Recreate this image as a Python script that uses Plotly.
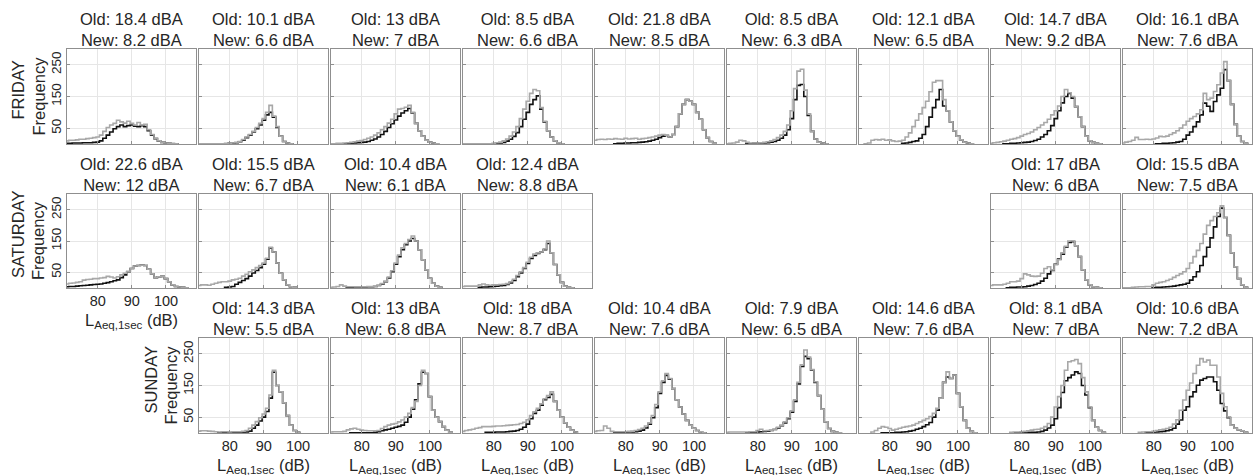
import plotly.graph_objects as go

W, H = 1254, 475

# ---------------------------------------------------------------------------
# Panel titles: spread of the old / new method per recording (dBA)
# ---------------------------------------------------------------------------
FRI_OLD_DBA = [18.4, 10.1, 13, 8.5, 21.8, 8.5, 12.1, 14.7, 16.1]
FRI_NEW_DBA = [8.2, 6.6, 7, 6.6, 8.5, 6.3, 6.5, 9.2, 7.6]
SAT_OLD_DBA = [22.6, 15.5, 10.4, 12.4, 17, 15.5]
SAT_NEW_DBA = [12, 6.7, 6.1, 8.8, 6, 7.5]
SUN_OLD_DBA = [14.3, 13, 18, 10.4, 7.9, 14.6, 8.1, 10.6]
SUN_NEW_DBA = [5.5, 6.8, 8.7, 7.6, 6.5, 7.6, 7, 7.2]

# grid columns used by each day
FRI_COLS = [0, 1, 2, 3, 4, 5, 6, 7, 8]
SAT_COLS = [0, 1, 2, 3, 7, 8]
SUN_COLS = [1, 2, 3, 4, 5, 6, 7, 8]

DAY_NAMES = ["FRIDAY", "SATURDAY", "SUNDAY"]
X_TICKS = [80, 90, 100]
Y_TICKS = [50, 150, 250]

# ---------------------------------------------------------------------------
# 1-dB histograms of L_Aeq,1sec: (centre of first bin, counts per bin)
# ---------------------------------------------------------------------------
FRI1_OLD = (71, [10, 12, 12, 13, 15, 15, 17, 18, 20, 22, 28, 40, 52, 60, 65, 75, 70, 66, 72, 65, 60, 68, 60, 62, 45, 30, 18, 10, 5, 3, 2, 2, 1])
FRI1_NEW = (71, [2, 2, 3, 3, 3, 4, 4, 4, 5, 6, 10, 18, 28, 38, 48, 55, 60, 55, 58, 60, 56, 55, 58, 55, 42, 28, 17, 9, 5, 3, 2, 1, 1])
FRI2_OLD = (71, [1, 1, 1, 1, 1, 1, 1, 1, 2, 2, 3, 5, 8, 14, 22, 30, 40, 52, 65, 80, 100, 122, 88, 55, 25, 8, 3, 1])
FRI2_NEW = (71, [0, 0, 0, 0, 0, 1, 1, 1, 1, 2, 2, 4, 7, 12, 20, 28, 38, 48, 60, 75, 92, 100, 85, 52, 25, 8, 3, 1])
FRI3_OLD = (71, [1, 1, 2, 2, 3, 4, 5, 7, 9, 11, 14, 18, 22, 28, 35, 45, 55, 66, 78, 95, 110, 112, 116, 122, 100, 65, 42, 25, 12, 6, 3, 1])
FRI3_NEW = (71, [0, 0, 0, 0, 1, 1, 2, 3, 4, 5, 6, 8, 12, 16, 22, 30, 40, 52, 64, 76, 88, 98, 105, 112, 98, 65, 42, 25, 12, 6, 3, 1])
FRI4_OLD = (71, [1, 1, 1, 1, 1, 1, 1, 1, 1, 2, 4, 6, 10, 16, 25, 38, 55, 80, 110, 135, 160, 172, 168, 115, 72, 42, 22, 10, 4, 1])
FRI4_NEW = (80, [1, 2, 3, 5, 9, 15, 24, 36, 55, 78, 100, 125, 140, 152, 110, 70, 42, 22, 10, 4, 1])
FRI5_OLD = (71, [12, 14, 15, 14, 16, 15, 17, 16, 15, 18, 16, 17, 18, 15, 17, 18, 20, 22, 25, 28, 30, 28, 22, 30, 55, 95, 125, 140, 135, 125, 100, 78, 45, 20, 8, 2])
FRI5_NEW = (77, [1, 2, 2, 3, 3, 4, 4, 5, 6, 7, 9, 12, 15, 20, 25, 27, 22, 30, 55, 95, 125, 140, 135, 125, 100, 78, 45, 20, 8, 2])
FRI6_OLD = (71, [1, 2, 3, 6, 12, 10, 5, 3, 3, 3, 4, 5, 7, 10, 14, 20, 28, 40, 60, 105, 175, 230, 236, 170, 95, 40, 16, 6, 3, 1])
FRI6_NEW = (77, [1, 1, 2, 2, 3, 3, 4, 6, 8, 12, 18, 28, 45, 80, 140, 185, 188, 150, 90, 40, 16, 6, 3, 1])
FRI7_OLD = (73, [1, 3, 12, 14, 13, 15, 12, 13, 10, 8, 9, 12, 22, 35, 55, 75, 95, 115, 135, 165, 195, 200, 200, 140, 105, 70, 42, 25, 13, 6, 3, 1])
FRI7_NEW = (84, [2, 3, 5, 8, 10, 18, 30, 55, 85, 115, 140, 172, 120, 105, 70, 42, 25, 13, 6, 3, 1])
FRI8_OLD = (71, [2, 4, 5, 7, 9, 12, 15, 17, 20, 25, 30, 33, 38, 45, 52, 60, 68, 78, 92, 105, 120, 150, 172, 162, 150, 118, 86, 55, 25, 10, 5, 2, 1])
FRI8_NEW = (75, [1, 1, 2, 2, 3, 4, 5, 6, 8, 11, 15, 22, 30, 42, 58, 80, 105, 130, 150, 160, 145, 118, 86, 55, 25, 10, 5, 2, 1])
FRI9_OLD = (71, [3, 6, 8, 12, 21, 14, 14, 15, 14, 16, 19, 24, 23, 25, 30, 35, 42, 50, 60, 72, 80, 87, 95, 108, 160, 140, 145, 166, 187, 224, 260, 200, 125, 62, 25, 8, 2])
FRI9_NEW = (81, [1, 1, 2, 2, 3, 4, 6, 8, 15, 28, 38, 55, 70, 92, 129, 119, 103, 134, 155, 176, 235, 200, 125, 62, 25, 8, 2])

SAT1_OLD = (71, [13, 15, 16, 18, 20, 25, 27, 28, 30, 30, 32, 33, 37, 35, 32, 36, 42, 47, 53, 62, 70, 72, 73, 72, 60, 45, 33, 36, 37, 30, 20, 10, 5, 3, 2, 1])
SAT1_NEW = (71, [4, 5, 5, 6, 7, 8, 9, 10, 11, 12, 13, 15, 17, 20, 23, 26, 33, 42, 52, 62, 70, 72, 73, 72, 60, 45, 33, 36, 37, 30, 20, 10, 5, 3, 2, 1])
SAT2_OLD = (71, [8, 10, 10, 9, 12, 15, 18, 20, 20, 22, 26, 28, 31, 38, 44, 52, 58, 65, 72, 80, 95, 130, 115, 80, 47, 26, 10, 4, 2])
SAT2_NEW = (79, [2, 3, 5, 12, 18, 24, 30, 38, 48, 56, 65, 76, 92, 128, 115, 80, 47, 26, 10, 4, 2])
SAT3_OLD = (71, [2, 3, 5, 10, 6, 4, 4, 4, 4, 4, 4, 5, 5, 6, 9, 14, 22, 35, 55, 80, 105, 128, 142, 155, 166, 150, 122, 90, 58, 31, 15, 6, 2])
SAT3_NEW = (76, [2, 2, 3, 3, 3, 3, 4, 4, 5, 8, 12, 20, 32, 52, 76, 100, 122, 138, 150, 158, 150, 122, 90, 58, 31, 15, 6, 2])
SAT4_OLD = (71, [5, 6, 6, 6, 6, 10, 13, 10, 9, 10, 10, 11, 12, 14, 20, 28, 40, 52, 65, 82, 98, 108, 112, 115, 125, 150, 112, 75, 42, 18, 6, 2, 1])
SAT4_NEW = (76, [2, 3, 3, 4, 5, 6, 7, 8, 11, 16, 24, 36, 48, 62, 78, 94, 104, 110, 115, 122, 142, 112, 75, 42, 18, 6, 2, 1])
SAT8_OLD = (71, [8, 10, 10, 10, 12, 15, 20, 20, 22, 30, 45, 42, 38, 37, 38, 47, 62, 68, 58, 74, 90, 112, 133, 150, 150, 135, 100, 58, 26, 10, 4, 2, 1])
SAT8_NEW = (76, [1, 2, 2, 3, 3, 4, 6, 8, 11, 15, 22, 31, 45, 56, 76, 92, 108, 130, 145, 148, 135, 100, 58, 26, 10, 4, 2, 1])
SAT9_OLD = (71, [1, 1, 1, 2, 3, 4, 4, 5, 5, 10, 15, 18, 20, 24, 28, 34, 40, 45, 52, 62, 80, 100, 120, 142, 172, 200, 215, 228, 240, 262, 225, 168, 112, 68, 30, 10, 2])
SAT9_NEW = (80, [1, 2, 2, 3, 4, 5, 6, 8, 10, 12, 15, 25, 36, 52, 72, 100, 130, 160, 195, 228, 255, 225, 168, 112, 68, 30, 10, 2])

SUN2_OLD = (71, [6, 7, 7, 6, 5, 4, 3, 4, 4, 3, 4, 4, 4, 5, 8, 15, 25, 36, 48, 60, 78, 120, 198, 150, 130, 95, 55, 25, 8, 2])
SUN2_NEW = (77, [1, 1, 1, 1, 1, 1, 1, 2, 3, 6, 15, 25, 38, 50, 68, 110, 192, 150, 130, 95, 55, 25, 8, 2])
SUN3_OLD = (71, [3, 4, 4, 4, 5, 10, 13, 15, 12, 9, 8, 7, 7, 7, 8, 14, 20, 25, 28, 30, 35, 41, 50, 62, 80, 100, 150, 198, 188, 115, 72, 50, 36, 20, 9, 2])
SUN3_NEW = (77, [1, 1, 1, 1, 1, 1, 1, 2, 4, 7, 10, 12, 15, 18, 21, 25, 34, 50, 75, 105, 155, 192, 188, 115, 72, 50, 36, 20, 9, 2])
SUN4_OLD = (71, [5, 8, 10, 12, 15, 17, 20, 20, 20, 21, 22, 22, 23, 24, 25, 26, 27, 30, 34, 42, 55, 67, 78, 92, 108, 118, 130, 100, 72, 50, 32, 18, 9, 3])
SUN4_NEW = (78, [2, 2, 2, 3, 3, 3, 4, 5, 6, 8, 12, 18, 28, 45, 62, 72, 88, 105, 112, 122, 100, 72, 50, 32, 18, 9, 3])
SUN5_OLD = (71, [5, 7, 8, 22, 15, 5, 4, 4, 4, 4, 5, 6, 8, 11, 15, 22, 32, 55, 90, 130, 165, 188, 172, 140, 105, 82, 60, 40, 25, 15, 8, 4, 1])
SUN5_NEW = (77, [1, 1, 2, 2, 3, 3, 4, 6, 9, 16, 28, 48, 80, 125, 160, 182, 170, 140, 105, 82, 60, 40, 25, 15, 8, 4, 1])
SUN6_OLD = (71, [2, 3, 3, 3, 3, 3, 3, 4, 4, 8, 12, 7, 8, 9, 12, 18, 25, 35, 48, 70, 105, 160, 215, 262, 240, 200, 162, 118, 75, 35, 14, 5, 2, 1])
SUN6_NEW = (77, [1, 2, 2, 3, 4, 5, 6, 8, 11, 16, 23, 32, 45, 66, 100, 155, 210, 242, 235, 198, 160, 118, 75, 35, 14, 5, 2, 1])
SUN7_OLD = (75, [3, 8, 15, 20, 18, 14, 9, 12, 15, 18, 20, 22, 25, 30, 35, 40, 45, 52, 62, 78, 110, 160, 193, 172, 183, 125, 83, 40, 15, 5, 1])
SUN7_NEW = (78, [1, 1, 1, 1, 2, 2, 3, 4, 6, 8, 12, 15, 20, 26, 33, 50, 72, 110, 160, 177, 172, 183, 125, 83, 40, 15, 5, 1])
SUN8_OLD = (77, [2, 3, 3, 4, 5, 7, 9, 11, 12, 15, 20, 30, 50, 82, 115, 150, 198, 225, 228, 232, 219, 175, 130, 82, 40, 18, 8, 2])
SUN8_NEW = (78, [1, 1, 1, 2, 2, 2, 2, 3, 5, 9, 16, 25, 45, 80, 128, 165, 175, 183, 193, 188, 150, 120, 80, 40, 18, 8, 2])
SUN9_OLD = (76, [2, 3, 4, 4, 5, 8, 10, 12, 14, 18, 28, 42, 72, 104, 135, 158, 188, 214, 235, 224, 230, 214, 214, 177, 125, 83, 51, 25, 15, 10, 7, 2])
SUN9_NEW = (78, [1, 2, 2, 3, 4, 5, 7, 10, 15, 28, 41, 72, 83, 115, 130, 151, 167, 172, 177, 177, 162, 135, 93, 70, 48, 25, 15, 10, 7, 2])

FRI_HISTS = [(FRI1_OLD, FRI1_NEW), (FRI2_OLD, FRI2_NEW), (FRI3_OLD, FRI3_NEW),
             (FRI4_OLD, FRI4_NEW), (FRI5_OLD, FRI5_NEW), (FRI6_OLD, FRI6_NEW),
             (FRI7_OLD, FRI7_NEW), (FRI8_OLD, FRI8_NEW), (FRI9_OLD, FRI9_NEW)]
SAT_HISTS = [(SAT1_OLD, SAT1_NEW), (SAT2_OLD, SAT2_NEW), (SAT3_OLD, SAT3_NEW),
             (SAT4_OLD, SAT4_NEW), (SAT8_OLD, SAT8_NEW), (SAT9_OLD, SAT9_NEW)]
SUN_HISTS = [(SUN2_OLD, SUN2_NEW), (SUN3_OLD, SUN3_NEW), (SUN4_OLD, SUN4_NEW),
             (SUN5_OLD, SUN5_NEW), (SUN6_OLD, SUN6_NEW), (SUN7_OLD, SUN7_NEW),
             (SUN8_OLD, SUN8_NEW), (SUN9_OLD, SUN9_NEW)]

DAYS = [
    (FRI_COLS, FRI_OLD_DBA, FRI_NEW_DBA, FRI_HISTS),
    (SAT_COLS, SAT_OLD_DBA, SAT_NEW_DBA, SAT_HISTS),
    (SUN_COLS, SUN_OLD_DBA, SUN_NEW_DBA, SUN_HISTS),
]

# ---------------------------------------------------------------------------
# Styling / geometry (pixels)
# ---------------------------------------------------------------------------
FONT = "Liberation Sans, Arial, Helvetica, sans-serif"
TXT = "#262626"
FRAME = "#8f8f8f"
GRID = "#e6e6e6"
OLD_COLOR = "#a8a8a8"
NEW_COLOR = "#111111"
LINE_W = 1.6

COL_LEFT0, COL_STEP, PANEL_W = 67, 132, 129
ROW_TOP = [49, 194, 338]
ROW_BOT = [144, 288, 433]
X_RANGE = [71.0, 108.8]
Y_RANGE = [0, 300]


def stairs(hist):
    """Outline of a histogram drawn as steps that start and end at zero."""
    first, counts = hist
    edges = [first - 0.5 + i for i in range(len(counts) + 1)]
    xs = [edges[0]] + edges[:-1] + [edges[-1]]
    ys = [0] + list(counts) + [0]
    return xs, ys


def px_x(v):
    return v / W


def px_y(v):
    return 1 - v / H


fig = go.Figure()
annotations = []
layout_axes = {}
n = 0

for r, (cols, olds, news, hists) in enumerate(DAYS):
    top, bot = ROW_TOP[r], ROW_BOT[r]
    first_col = cols[0]
    for k, c in enumerate(cols):
        n += 1
        left = COL_LEFT0 + c * COL_STEP
        right = left + PANEL_W
        xname = "x" if n == 1 else f"x{n}"
        yname = "y" if n == 1 else f"y{n}"
        xkey = "xaxis" if n == 1 else f"xaxis{n}"
        ykey = "yaxis" if n == 1 else f"yaxis{n}"

        show_x = (r == 2) or (r == 1 and c == 0)
        show_y = (c == first_col)

        layout_axes[xkey] = dict(
            domain=[px_x(left), px_x(right)], anchor=yname, range=X_RANGE,
            tickvals=X_TICKS, showticklabels=show_x, showgrid=True,
            gridcolor=GRID, gridwidth=1, showline=True, mirror=True,
            linecolor=FRAME, linewidth=1, ticks="inside", ticklen=3,
            tickcolor=FRAME, zeroline=False, fixedrange=True,
            tickfont=dict(family=FONT, size=14.5, color=TXT),
        )
        layout_axes[ykey] = dict(
            domain=[px_y(bot), px_y(top)], anchor=xname, range=Y_RANGE,
            tickvals=Y_TICKS, showticklabels=show_y, tickangle=-90,
            showgrid=True, gridcolor=GRID, gridwidth=1, showline=True,
            mirror=True, linecolor=FRAME, linewidth=1, ticks="inside",
            ticklen=3, tickcolor=FRAME, zeroline=False, fixedrange=True,
            tickfont=dict(family=FONT, size=13.5, color=TXT),
        )

        old_hist, new_hist = hists[k]
        xs_n, ys_n = stairs(new_hist)
        xs_o, ys_o = stairs(old_hist)
        fig.add_trace(go.Scatter(x=xs_n, y=ys_n, mode="lines", line_shape="hv",
                                 line=dict(color=NEW_COLOR, width=LINE_W),
                                 xaxis=xname, yaxis=yname, showlegend=False,
                                 hoverinfo="skip"))
        fig.add_trace(go.Scatter(x=xs_o, y=ys_o, mode="lines", line_shape="hv",
                                 line=dict(color=OLD_COLOR, width=LINE_W),
                                 xaxis=xname, yaxis=yname, showlegend=False,
                                 hoverinfo="skip"))

        # two-line panel title
        annotations.append(dict(
            x=px_x((left + right) / 2), y=px_y(top), xref="paper", yref="paper",
            xanchor="center", yanchor="bottom", yshift=-2, showarrow=False,
            text=f"Old: {olds[k]:g} dBA<br>New: {news[k]:g} dBA",
            font=dict(family=FONT, size=16.5, color=TXT), align="center"))

        if show_x:
            annotations.append(dict(
                x=px_x((left + right) / 2), y=px_y(bot), xref="paper", yref="paper",
                xanchor="center", yanchor="top", yshift=-21, showarrow=False,
                text="L<sub>Aeq,1sec</sub> (dB)",
                font=dict(family=FONT, size=16.5, color=TXT)))

        if show_y:
            mid = (top + bot) / 2
            annotations.append(dict(
                x=px_x(left - 29), y=px_y(mid), xref="paper", yref="paper",
                xanchor="center", yanchor="middle", textangle=-90,
                showarrow=False, text="Frequency",
                font=dict(family=FONT, size=16.5, color=TXT)))
            annotations.append(dict(
                x=px_x(left - 49), y=px_y(mid - 6), xref="paper", yref="paper",
                xanchor="center", yanchor="middle", textangle=-90,
                showarrow=False, text=DAY_NAMES[r],
                font=dict(family=FONT, size=16.5, color=TXT)))

fig.update_layout(
    width=W, height=H, autosize=False,
    margin=dict(l=0, r=0, t=0, b=0),
    paper_bgcolor="white", plot_bgcolor="white",
    showlegend=False, annotations=annotations,
    **layout_axes,
)

fig.write_html("out.html")
